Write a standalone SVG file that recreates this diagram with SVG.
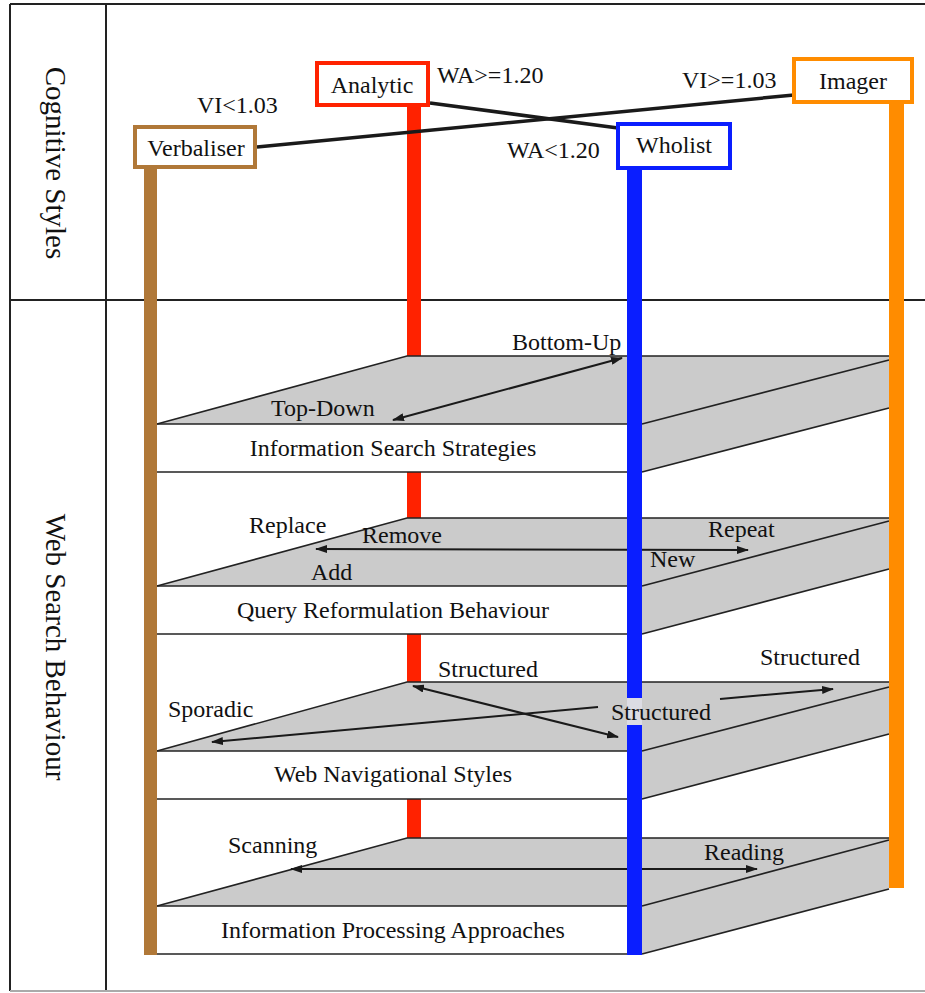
<svg xmlns="http://www.w3.org/2000/svg" width="925" height="993" viewBox="0 0 925 993">
<defs>
<marker id="ah" viewBox="0 0 12 8" refX="11" refY="4" markerWidth="12" markerHeight="8" markerUnits="userSpaceOnUse" orient="auto-start-reverse">
<path d="M0,0 L12,4 L0,8 Z" fill="#1a1a1a"/>
</marker>
<style>
text{font-family:"Liberation Serif","Times New Roman",serif;font-size:24px;fill:#111}
.mid{text-anchor:middle}
.side{font-size:29px;text-anchor:middle}
.frame{stroke:#222;stroke-width:2;fill:none}
.face{fill:#cbcbcb;stroke:none}
.edge{stroke:#222;stroke-width:1.6;fill:none}
.front{fill:#fff;stroke:none}
.conn{stroke:#1a1a1a;stroke-width:3.5;fill:none}
.arrow{stroke:#1a1a1a;stroke-width:2;fill:none}
.box{fill:#fff;stroke-width:4}
</style>
</defs>
<rect x="0" y="0" width="925" height="993" fill="#fff"/>
<g id="frame">
<line class="frame" x1="10" y1="4" x2="925" y2="4"/>
<line class="frame" x1="10" y1="4" x2="10" y2="991"/>
<line class="frame" x1="106" y1="4" x2="106" y2="991"/>
<line class="frame" x1="10" y1="300" x2="925" y2="300"/>
<line x1="10" y1="991" x2="925" y2="991" stroke="#aaa" stroke-width="2"/>
<text class="side" transform="translate(46,163) rotate(90)">Cognitive Styles</text>
<text class="side" transform="translate(46,647) rotate(90)">Web Search Behaviour</text>
</g>
<rect id="analytic-bar" x="407" y="105" width="14" height="733" fill="#ff2200"/>
<g id="slab-search">
<polygon class="face" points="157,424 407,356 889,356 889,360 642,424"/>
<polygon class="face" points="642,424 889,360 889,408 642,472"/>
<rect class="front" x="157" y="424" width="471" height="48"/>
<polyline class="edge" points="157,424 407,356 889,356"/>
<line class="edge" x1="157" y1="424" x2="628" y2="424"/>
<line class="edge" x1="157" y1="472" x2="628" y2="472"/>
<line class="edge" x1="642" y1="424" x2="889" y2="360"/>
<line class="edge" x1="642" y1="472" x2="889" y2="408"/>
<text class="mid" x="393" y="456">Information Search Strategies</text>
</g>
<g id="slab-query">
<polygon class="face" points="157,586 407,518 889,518 889,521 642,586"/>
<polygon class="face" points="642,586 889,521 889,569 642,634"/>
<rect class="front" x="157" y="586" width="471" height="48"/>
<polyline class="edge" points="157,586 407,518 889,518"/>
<line class="edge" x1="157" y1="586" x2="628" y2="586"/>
<line class="edge" x1="157" y1="634" x2="628" y2="634"/>
<line class="edge" x1="642" y1="586" x2="889" y2="521"/>
<line class="edge" x1="642" y1="634" x2="889" y2="569"/>
<text class="mid" x="393" y="618">Query Reformulation Behaviour</text>
</g>
<g id="slab-navigation">
<polygon class="face" points="157,751 407,682 889,682 889,687 642,751"/>
<polygon class="face" points="642,751 889,687 889,734 642,799"/>
<rect class="front" x="157" y="751" width="471" height="48"/>
<polyline class="edge" points="157,751 407,682 889,682"/>
<line class="edge" x1="157" y1="751" x2="628" y2="751"/>
<line class="edge" x1="157" y1="799" x2="628" y2="799"/>
<line class="edge" x1="642" y1="751" x2="889" y2="687"/>
<line class="edge" x1="642" y1="799" x2="889" y2="734"/>
<text class="mid" x="393" y="782">Web Navigational Styles</text>
</g>
<g id="slab-processing">
<polygon class="face" points="157,906 407,838 889,838 889,840 642,906"/>
<polygon class="face" points="642,906 889,840 889,889 642,954"/>
<rect class="front" x="157" y="906" width="471" height="48"/>
<polyline class="edge" points="157,906 407,838 889,838"/>
<line class="edge" x1="157" y1="906" x2="628" y2="906"/>
<line class="edge" x1="157" y1="954" x2="628" y2="954"/>
<line class="edge" x1="642" y1="906" x2="889" y2="840"/>
<line class="edge" x1="642" y1="954" x2="889" y2="889"/>
<text class="mid" x="393" y="938">Information Processing Approaches</text>
</g>
<g id="connectors">
<line class="conn" x1="430" y1="103" x2="618" y2="128"/>
<line class="conn" x1="257" y1="147" x2="794" y2="95"/>
<line class="arrow" x1="393" y1="420" x2="622" y2="358" marker-start="url(#ah)" marker-end="url(#ah)"/>
<line class="arrow" x1="316" y1="549" x2="748" y2="550" marker-start="url(#ah)" marker-end="url(#ah)"/>
<line class="arrow" x1="598" y1="707" x2="212" y2="742" marker-end="url(#ah)"/>
<line class="arrow" x1="413" y1="686" x2="618" y2="737" marker-start="url(#ah)" marker-end="url(#ah)"/>
<line class="arrow" x1="720" y1="699" x2="833" y2="689" marker-end="url(#ah)"/>
<line class="arrow" x1="291" y1="869" x2="757" y2="869" marker-start="url(#ah)" marker-end="url(#ah)"/>
</g>
<g id="bars">
<rect x="144" y="167" width="13" height="788" fill="#b07838"/>
<rect x="627" y="168" width="15" height="530" fill="#0a1eff"/>
<rect x="627" y="698" width="15" height="27" fill="#dcdce4"/>
<rect x="627" y="725" width="15" height="230" fill="#0a1eff"/>
<rect x="889" y="102" width="15" height="786" fill="#ff8c00"/>
</g>
<g id="labels">
<text x="197" y="113">VI&lt;1.03</text>
<text x="437" y="83">WA&gt;=1.20</text>
<text x="507" y="158">WA&lt;1.20</text>
<text x="682" y="88">VI&gt;=1.03</text>
<text x="512" y="350">Bottom-Up</text>
<text x="271" y="416">Top-Down</text>
<text x="249" y="533">Replace</text>
<text x="362" y="543">Remove</text>
<text x="311" y="580">Add</text>
<text x="708" y="537">Repeat</text>
<text x="650" y="567">New</text>
<text x="438" y="677">Structured</text>
<text x="760" y="665">Structured</text>
<text x="611" y="720">Structured</text>
<text x="168" y="717">Sporadic</text>
<text x="228" y="853">Scanning</text>
<text x="704" y="860">Reading</text>
</g>
<g id="verbaliser">
<rect class="box" x="135" y="127" width="120" height="40" stroke="#b07838"/>
<text class="mid" x="196" y="156">Verbaliser</text>
</g>
<g id="analytic">
<rect class="box" x="317" y="63" width="111" height="42" stroke="#ff2200"/>
<text class="mid" x="372" y="93">Analytic</text>
</g>
<g id="wholist">
<rect class="box" x="618" y="124" width="112" height="44" stroke="#0a1eff"/>
<text class="mid" x="674" y="153">Wholist</text>
</g>
<g id="imager">
<rect class="box" x="794" y="59" width="118" height="43" stroke="#ff8c00"/>
<text class="mid" x="853" y="89">Imager</text>
</g>
</svg>
